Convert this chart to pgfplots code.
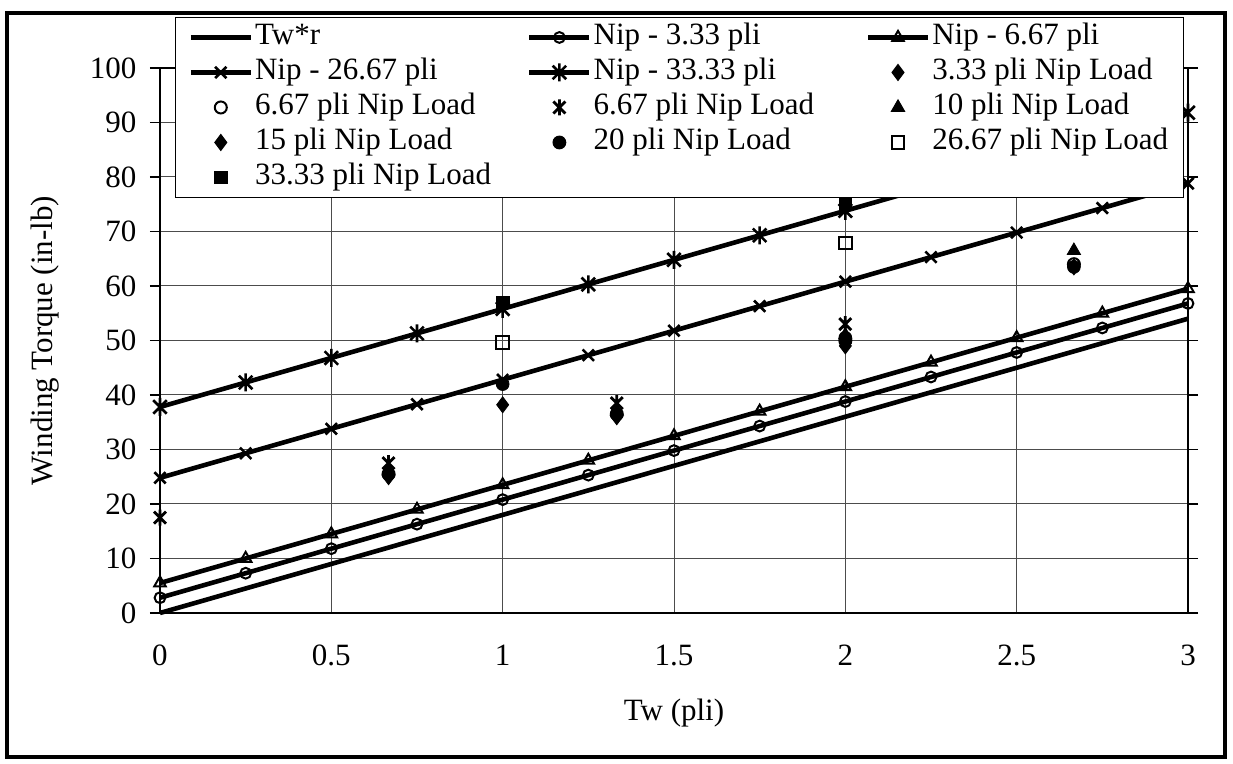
\documentclass[border=0pt]{standalone}
\usepackage{fontspec}
\setmainfont{Liberation Serif}
\usepackage{pgfplots}
\pgfplotsset{compat=1.18}
\pgfdeclareplotmark{xstar}{%
  \pgfpathmoveto{\pgfqpoint{-0.75\pgfplotmarksize}{-0.75\pgfplotmarksize}}%
  \pgfpathlineto{\pgfqpoint{0.75\pgfplotmarksize}{0.75\pgfplotmarksize}}%
  \pgfpathmoveto{\pgfqpoint{-0.75\pgfplotmarksize}{0.75\pgfplotmarksize}}%
  \pgfpathlineto{\pgfqpoint{0.75\pgfplotmarksize}{-0.75\pgfplotmarksize}}%
  \pgfpathmoveto{\pgfqpoint{0pt}{-\pgfplotmarksize}}%
  \pgfpathlineto{\pgfqpoint{0pt}{\pgfplotmarksize}}%
  \pgfusepathqstroke}
\pgfplotsset{
  L/.style={legend image code/.code={\draw[mark repeat=2,mark phase=2,##1] plot coordinates {(0pt,0pt)(15pt,0pt)(30pt,0pt)};}},
}
\newcommand{\cw}[1]{\makebox[135pt][l]{#1}}
\begin{document}
\begin{tikzpicture}
\useasboundingbox (-80pt,-75.5pt) rectangle (536.5pt,306.5pt);
\draw[line width=1.6pt] (-76.5pt,-72pt) rectangle (532.5pt,300pt);
\begin{axis}[
  at={(0,0)}, anchor=south west,
  width=514pt, height=272.5pt, scale only axis,
  xmin=0, xmax=3, ymin=0, ymax=100,
  xtick={0,0.5,1,1.5,2,2.5,3}, ytick={0,10,20,30,40,50,60,70,80,90,100},
  xticklabels={0,0.5,1,1.5,2,2.5,3},
  grid=major, grid style={black!70, line width=0.5pt},
  axis line style={black, line width=0.6pt},
  tick align=outside, major tick length=5pt,
  xtick style={draw=none}, ytick style={black, line width=0.6pt},
  tick label style={font=\fontsize{15.5}{18}\selectfont},
  /pgf/number format/assume math mode=true,
  yticklabel shift=3.3pt,
  xticklabel shift=7.3pt,
  label style={font=\fontsize{15.5}{18}\selectfont},
  xlabel={Tw (pli)},
  ylabel={Winding Torque (in-lb)},
  xlabel style={at={(axis description cs:0.5,-0.1835)}, anchor=center},
  ylabel style={at={(axis description cs:-0.112,0.5)}, anchor=center},
  clip=false,
  legend columns=3,
  legend cell align=left,
  legend style={
    at={(axis description cs:0.0146,1.0936)}, anchor=north west,
    draw=black, line width=0.5pt, fill=white,
    inner xsep=6.5pt, inner ysep=2pt,
    font=\fontsize{15.5}{18}\selectfont,
    row sep=1.5pt, column sep=0pt,
    nodes={inner xsep=1pt, inner ysep=0.75pt, text height=11pt, text depth=3.5pt},
  },
]
% Tw*r
\addplot[L, black, line width=2.3pt] coordinates {(0,0) (0.25,4.5) (0.5,9) (0.75,13.5) (1,18) (1.25,22.5) (1.5,27) (1.75,31.5) (2,36) (2.25,40.5) (2.5,45) (2.75,49.5) (3,54)};
\addlegendentry{\cw{Tw*r}}
% Nip 3.33
\addplot[L, black, line width=2.3pt, mark=o, mark size=2.7pt, mark options={solid, line width=1pt, fill=white}] coordinates {(0,2.8) (0.25,7.3) (0.5,11.8) (0.75,16.3) (1,20.8) (1.25,25.3) (1.5,29.8) (1.75,34.3) (2,38.8) (2.25,43.3) (2.5,47.8) (2.75,52.3) (3,56.8)};
\addlegendentry{\cw{Nip - 3.33 pli}}
% Nip 6.67
\addplot[L, black, line width=2.3pt, mark=triangle, mark size=3.3pt, mark options={solid, line width=1pt, fill=white}] coordinates {(0,5.5) (0.25,10) (0.5,14.5) (0.75,19) (1,23.5) (1.25,28) (1.5,32.5) (1.75,37) (2,41.5) (2.25,46) (2.5,50.5) (2.75,55) (3,59.5)};
\addlegendentry{Nip - 6.67 pli}
% Nip 26.67
\addplot[L, black, line width=2.3pt, mark=x, mark size=4pt, mark options={solid, line width=1.3pt}] coordinates {(0,24.8) (0.25,29.3) (0.5,33.8) (0.75,38.3) (1,42.8) (1.25,47.3) (1.5,51.8) (1.75,56.3) (2,60.8) (2.25,65.3) (2.5,69.8) (2.75,74.3) (3,78.8)};
\addlegendentry{\cw{Nip - 26.67 pli}}
% Nip 33.33
\addplot[L, black, line width=2.3pt, mark=xstar, mark size=4.5pt, mark options={solid, line width=1.3pt}] coordinates {(0,37.8) (0.25,42.3) (0.5,46.8) (0.75,51.3) (1,55.8) (1.25,60.3) (1.5,64.8) (1.75,69.3) (2,73.8) (2.25,78.3) (2.5,82.8) (2.75,87.3) (3,91.8)};
\addlegendentry{\cw{Nip - 33.33 pli}}
% 3.33 pli Nip Load
\addplot[only marks, L, black, mark=diamond*, mark size=4pt, mark options={fill=black}] coordinates {(0.667,25) (1.333,36) (2,49) (2.667,63.5)};
\addlegendentry{3.33 pli Nip Load}
% 6.67 circle
\addplot[only marks, L, black, mark=o, mark size=3pt, mark options={line width=1pt, fill=white}] coordinates {(0.667,25.5) (1.333,36.5) (2,50) (2.667,64)};
\addlegendentry{\cw{6.67 pli Nip Load}}
% 6.67 star
\addplot[only marks, L, black, mark=xstar, mark size=4pt, mark options={line width=1.4pt}] coordinates {(0,17.5) (0.667,27.5) (1.333,38.5) (2,53)};
\addlegendentry{\cw{6.67 pli Nip Load}}
% 10 triangle
\addplot[only marks, L, black, mark=triangle*, mark size=3.8pt, mark options={fill=black}] coordinates {(0.667,26) (1.333,37) (2,51) (2.667,66.5)};
\addlegendentry{10 pli Nip Load}
% 15 diamond
\addplot[only marks, L, black, mark=diamond*, mark size=4pt, mark options={fill=black}] coordinates {(1,38.2) (2,49.5)};
\addlegendentry{\cw{15 pli Nip Load}}
% 20 circle
\addplot[only marks, L, black, mark=*, mark size=3.2pt, mark options={fill=black}] coordinates {(1,42) (2,50.5) (2.667,63.5)};
\addlegendentry{\cw{20 pli Nip Load}}
% 26.67 open square
\addplot[only marks, L, black, mark=square, mark size=3.2pt, mark options={line width=1pt, fill=white}] coordinates {(1,49.7) (2,67.9)};
\addlegendentry{26.67 pli Nip Load}
% 33.33 filled square
\addplot[only marks, L, black, mark=square*, mark size=3.2pt, mark options={fill=black}] coordinates {(1,57) (2,75.2)};
\addlegendentry{\cw{33.33 pli Nip Load}}
\end{axis}
\end{tikzpicture}
\end{document}
